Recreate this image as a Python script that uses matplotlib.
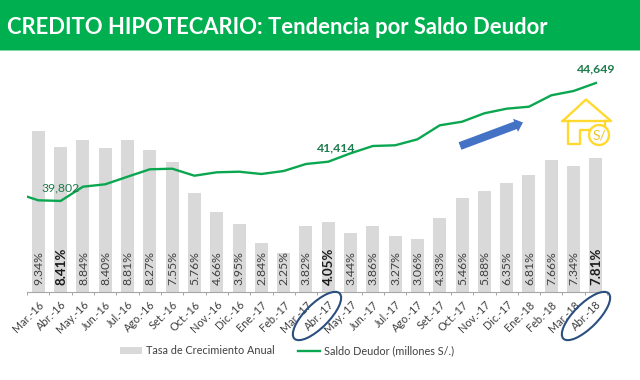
import matplotlib
matplotlib.use('Agg')
import matplotlib.pyplot as plt
import matplotlib.patches as mpatches
import matplotlib.ticker as tckr
import numpy as np

plt.rcParams['font.family'] = ['Lato', 'DejaVu Sans']

# Data
meses = ['Mar.-16', 'Abr.-16', 'May.-16', 'Jun.-16', 'Jul.-16', 'Ago.-16', 'Set.-16', 'Oct.-16',
         'Nov.-16', 'Dic.-16', 'Ene.-17', 'Feb.-17', 'Mar.-17', 'Abr.-17', 'May.-17', 'Jun.-17',
         'Jul.-17', 'Ago.-17', 'Set.-17', 'Oct.-17', 'Nov.-17', 'Dic.-17', 'Ene.-18', 'Feb.-18',
         'Mar.-18', 'Abr.-18']
tasa = [9.34, 8.41, 8.84, 8.40, 8.81, 8.27, 7.55, 5.76, 4.66, 3.95, 2.84, 2.25, 3.82, 4.05,
        3.44, 3.86, 3.27, 3.06, 4.33, 5.46, 5.88, 6.35, 6.81, 7.66, 7.34, 7.81]
saldo = [39828, 39802, 40387, 40486, 40798, 41102, 41127, 40839, 40979, 41003, 40909, 41032,
         41320, 41414, 41760, 42060, 42089, 42335, 42910, 43058, 43404, 43593, 43675, 44143,
         44320, 44649]
saldo_inicio = 39976  # the line starts half a category before the first bar
etiquetas_saldo = {1: '39,802', 13: '41,414', 25: '44,649'}
destacados = ['Abr.-16', 'Abr.-17', 'Abr.-18']

VERDE = '#00B050'
LINEA = '#0BA750'
GRIS = '#D9D9D9'
AZUL = '#2B4F7E'
AMARILLO = '#FFD92E'

W, H = 640, 380
fig = plt.figure(figsize=(W / 100, H / 100), dpi=100, facecolor='white')

# axes box is placed so category i falls on x = 38.3 + 22.3 i px
left, right, top, bottom = 27.2, 607.0, 60.0, 292.0
ax = fig.add_axes([left / W, 1 - bottom / H, (right - left) / W, (bottom - top) / H])
x = np.arange(len(meses))
barras = ax.bar(x, tasa, width=0.58, color=GRIS, label='Tasa de Crecimiento Anual')
ax.set_xlim(-0.5, len(meses) - 0.5)
ax.set_ylim(0, (bottom - top) / 17.2)

for i, v in enumerate(tasa):
    bold = meses[i] in destacados
    ax.text(i + 0.02, 0.42, f'{v:.2f}%', rotation=90, ha='center', va='bottom',
            fontsize=9.6 if bold else 8.8, fontweight='bold' if bold else 'normal',
            color='#1a1a1a' if bold else '#404040')

ax.set_yticks([])
ax.set_xticks(x)
ax.set_xticklabels(meses, rotation=45, ha='right', rotation_mode='anchor', fontsize=7.8, color='#404040')
ax.tick_params(axis='x', which='major', length=0, pad=5)
ax.xaxis.set_minor_locator(tckr.FixedLocator(np.append(x - 0.5, x[-1] + 0.5)))
ax.tick_params(axis='x', which='minor', length=2.2, width=0.7, color='#A6A6A6')
for s in ['top', 'left', 'right']:
    ax.spines[s].set_visible(False)
ax.spines['bottom'].set_color('#A6A6A6')
ax.spines['bottom'].set_linewidth(0.8)

# second scale for the line
ax2 = ax.twinx()
linea, = ax2.plot(np.append(-0.5, x), [saldo_inicio] + saldo, color=LINEA, lw=1.7,
                  label='Saldo Deudor (millones S/.)')
ax2.set_ylim(44649 - 41.1 * (bottom - 83), 44649 + 41.1 * (83 - top))
ax2.set_yticks([])
for s in ax2.spines.values():
    s.set_visible(False)

# label offsets in px from the point
desp = {1: (0, 13), 13: (8, 14), 25: (0, 14.5)}
for i, txt in etiquetas_saldo.items():
    dx, dy = desp[i]
    ax2.annotate(txt, (i, saldo[i]), xytext=(dx * 0.72, dy * 0.72), textcoords='offset points',
                 ha='center', va='center', fontsize=8.8, fontweight='normal' if i == 1 else 'bold',
                 color='#1E7B4C')

fig.legend(handles=[barras, linea], labels=['Tasa de Crecimiento Anual', 'Saldo Deudor (millones S/.)'],
           loc='center', bbox_to_anchor=(287 / W, 1 - 351 / H), ncol=2, frameon=False, fontsize=7.8,
           labelcolor='#404040', handlelength=2.05, handleheight=0.6, handletextpad=0.3, columnspacing=2.2)

# overlay in pixel coordinates for the banner and the drawn shapes
ov = fig.add_axes([0, 0, 1, 1], facecolor='none')
ov.set_xlim(0, W)
ov.set_ylim(H, 0)
ov.axis('off')
ov.add_patch(mpatches.Rectangle((0, 0), W, 50, color=VERDE, lw=0))
ov.add_patch(mpatches.Rectangle((0, 50), W, 1, color='#7FD7A7', lw=0))
ov.text(7, 27, 'CREDITO HIPOTECARIO: Tendencia por Saldo Deudor', color='white', fontsize=15.85,
        fontweight='bold', ha='left', va='center')

for cx in (317, 586):
    ov.add_patch(mpatches.Ellipse((cx, 316), 64, 24, angle=-45, fill=False, ec=AZUL, lw=1.5))

ov.add_patch(mpatches.FancyArrow(460, 146, 63, -23.5, width=8, head_width=14, head_length=8,
                                 length_includes_head=True, color='#4472C4', lw=0))

# house icon
ov.plot([562.7, 586, 611, 562.7], [121, 99.5, 121, 121], color=AMARILLO, lw=1.7, solid_joinstyle='round')
ov.plot([568, 568, 580, 580, 590], [121, 143.5, 143.5, 130, 130], color=AMARILLO, lw=1.7)
ov.plot([605, 605], [121, 126], color=AMARILLO, lw=1.7)
ov.add_patch(mpatches.Circle((599, 135), 10, fill=False, ec=AMARILLO, lw=1.7))
ov.text(599, 135.5, 'S/', color='#E8C52A', fontsize=10, ha='center', va='center')

fig.savefig('out.png', dpi=100, facecolor='white')
